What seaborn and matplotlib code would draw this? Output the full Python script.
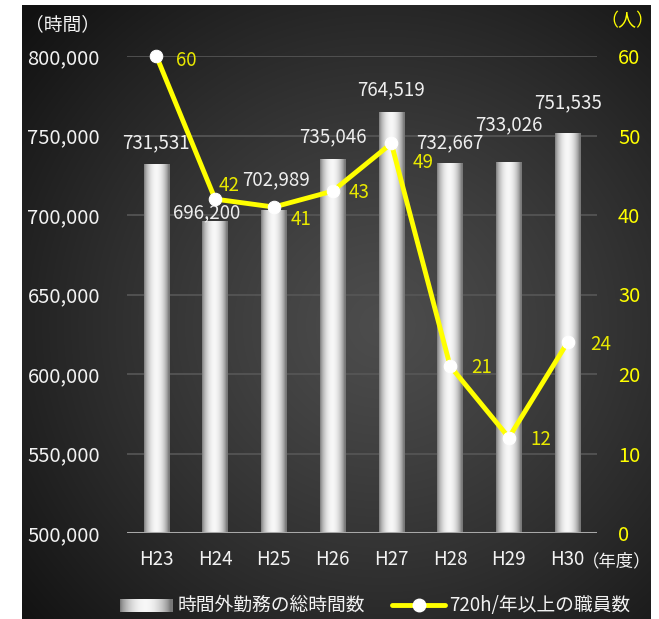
import numpy as np
import pandas as pd
import matplotlib
matplotlib.use("Agg")
import matplotlib.pyplot as plt
from matplotlib.lines import Line2D
import seaborn as sns

# --- data -------------------------------------------------------------
years = ["H23", "H24", "H25", "H26", "H27", "H28", "H29", "H30"]
overtime_hours = [731531, 696200, 702989, 735046, 764519, 732667, 733026, 751535]
staff_720h = [60, 42, 41, 43, 49, 21, 12, 24]
left_ticks = [500000, 550000, 600000, 650000, 700000, 750000, 800000]
right_ticks = [0, 10, 20, 30, 40, 50, 60]

# label placement (pixel offsets from each mark)
bar_label_offsets = [(0, 22), (-9, 8), (2, 30), (0, 22), (0, 23), (0, 20), (0, 38), (0, 30)]
line_label_offsets = [(30, -4), (14, 14), (27, -12), (26, -1), (32, -19), (32, -1), (32, -2), (33, -2)]

sns.set_theme(style="dark")
plt.rcParams["font.family"] = ["Noto Sans CJK JP", "DejaVu Sans"]

W, H = 659, 619
PT = 72 / 100  # pixels -> points at 100 dpi
fig = plt.figure(figsize=(W / 100, H / 100), dpi=100)
fig.patch.set_facecolor("white")

# --- dark panel with radial shading -----------------------------------
px0, px1, py0, py1 = 22, 651, 5, 619
bg = fig.add_axes([px0 / W, 1 - py1 / H, (px1 - px0) / W, (py1 - py0) / H])
bg.set_axis_off()
gy, gx = np.mgrid[0:300, 0:300]
cx, cy = 0.57 * 300, 0.52 * 300
r = np.sqrt(((gx - cx) / 300) ** 2 + ((gy - cy) / 300) ** 2)
shade = 0.30 - 0.23 * np.clip(r / 0.75, 0, 1) ** 1.2
bg.imshow(np.dstack([shade] * 3), aspect="auto", extent=(0, 1, 0, 1), interpolation="bicubic")
bg.set_xlim(0, 1)
bg.set_ylim(0, 1)

# --- bars -------------------------------------------------------------
df = pd.DataFrame({"year": years, "hours": overtime_hours, "staff": staff_720h})
ax = fig.add_axes([127 / W, (H - 533) / H, 470 / W, 477 / H])
ax.set_facecolor("none")
sns.barplot(data=df, x="year", y="hours", ax=ax, width=0.43, color="#dddddd", zorder=2)
ax.set_ylim(500000, 800000)
ax.set_xlim(-0.5, 7.5)

t = np.linspace(0, 1, 64)
profile = 0.47 + 0.50 * np.sin(np.pi * np.clip(t * 1.05, 0, 1)) ** 0.7
profile = np.clip(profile, 0, 0.97)
grad = np.dstack([profile[None, :]] * 3)
for patch in ax.patches:
    x0 = patch.get_x()
    w = patch.get_width()
    top = patch.get_y() + patch.get_height()
    patch.set_visible(False)
    ax.imshow(grad, extent=(x0, x0 + w, 500000, top), aspect="auto",
              interpolation="bicubic", zorder=2)
ax.set_xlim(-0.5, 7.5)
ax.set_ylim(500000, 800000)

for i, (v, (dx, dy)) in enumerate(zip(overtime_hours, bar_label_offsets)):
    ax.annotate(f"{v:,}", (i, v), xytext=(dx, dy), textcoords="offset pixels",
                ha="center", va="center", color="#eeeeee", fontsize=13.5, zorder=5)

ax.set_yticks(left_ticks)
ax.set_yticklabels([f"{v:,}" for v in left_ticks])
ax.tick_params(axis="y", colors="#f2f2f2", labelsize=14.5, length=0, pad=27 * PT)
ax.tick_params(axis="x", colors="#f2f2f2", labelsize=13.5, length=0, pad=16 * PT)
ax.set_xlabel("")
ax.set_ylabel("")
ax.grid(False)
for yv in left_ticks[1:]:
    ax.axhline(yv, color="#575757", lw=1.2, zorder=1)
ax.axhline(500000, color="#a8a8a8", lw=2.2, zorder=3)
for s in ax.spines.values():
    s.set_visible(False)

# --- line on secondary axis -------------------------------------------
ax2 = ax.twinx()
ax2.set_facecolor("none")
sns.lineplot(data=df, x="year", y="staff", ax=ax2, color="#ffff00", linewidth=3.5,
             marker="o", markersize=9, markerfacecolor="white", markeredgecolor="white",
             sort=False, zorder=6)
ax2.set_ylim(0, 60)
ax2.set_xlim(-0.5, 7.5)
ax2.set_yticks(right_ticks)
ax2.tick_params(axis="y", colors="#ffff00", labelsize=14.5, length=0, pad=21 * PT)
ax2.set_ylabel("")
ax2.set_xlabel("")
ax2.grid(False)
for s in ax2.spines.values():
    s.set_visible(False)
for line in ax2.lines:
    line.set_clip_on(False)

for i, (v, (dx, dy)) in enumerate(zip(staff_720h, line_label_offsets)):
    ax2.annotate(f"{v}", (i, v), xytext=(dx, dy), textcoords="offset pixels",
                 ha="center", va="center", color="#e8e800", fontsize=13.5, zorder=7)

# --- unit captions ----------------------------------------------------
fig.text(62 / W, 1 - 25 / H, "（時間）", ha="center", va="center", color="#f2f2f2", fontsize=13.5)
fig.text(627 / W, 1 - 21 / H, "（人）", ha="center", va="center", color="#ffff00", fontsize=13)
fig.text(617 / W, 1 - 561 / H, "（年度）", ha="center", va="center", color="#f2f2f2", fontsize=12.5)

# --- legend -----------------------------------------------------------
ly = 1 - 605 / H
lg = fig.add_axes([120 / W, 1 - 612 / H, 53 / W, 13 / H])
lg.set_axis_off()
lg.imshow(grad, aspect="auto", extent=(0, 1, 0, 1), interpolation="bicubic")
fig.text(178 / W, ly, "時間外勤務の総時間数", ha="left", va="center", color="#f2f2f2", fontsize=13.5)
fig.add_artist(Line2D([392 / W, 445 / W], [ly, ly], color="#ffff00", lw=3.5))
fig.add_artist(Line2D([418.5 / W], [ly], marker="o", markersize=9, color="white", lw=0))
fig.text(449 / W, ly, "720h/年以上の職員数", ha="left", va="center", color="#f2f2f2", fontsize=13.5)

fig.savefig("out.png", dpi=100, facecolor=fig.get_facecolor())
